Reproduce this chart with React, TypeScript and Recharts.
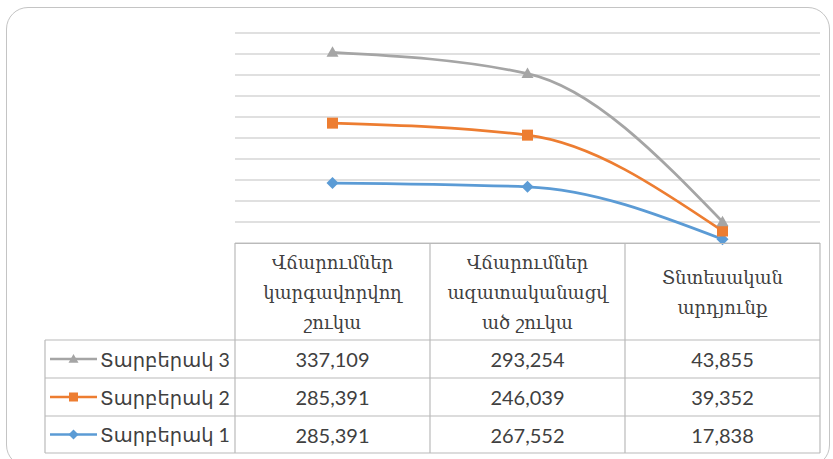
import React from 'react';
import { LineChart, Line, XAxis, YAxis, CartesianGrid } from 'recharts';

const categories = ['Վճարումներ կարգավորվող շուկա', 'Վճարումներ ազատականացված շուկա', 'Տնտեսական արդյունք'];
// header labels wrapped the same way as in the data table
const headerLines = [
  ['Վճարումներ', 'կարգավորվող', 'շուկա'],
  ['Վճարումներ', 'ազատականացվ', 'ած շուկա'],
  ['Տնտեսական', 'արդյունք'],
];

const variant1 = [285391, 267552, 17838];
const variant2 = [285391, 246039, 39352];
const variant3 = [337109, 293254, 43855];

const yTicks = [0, 100000, 200000, 300000, 400000, 500000, 600000, 700000, 800000, 900000, 1000000];

const SERIES = [
  { key: 'v1', name: 'Տարբերակ 1', values: variant1, color: '#5b9bd5', marker: 'diamond' },
  { key: 'v2', name: 'Տարբերակ 2', values: variant2, color: '#ed7d31', marker: 'square' },
  { key: 'v3', name: 'Տարբերակ 3', values: variant3, color: '#a5a5a5', marker: 'triangle' },
];

// stacked line chart: each series sits on top of the previous ones
const chartData = categories.map((c, i) => ({
  name: c,
  v1: variant1[i],
  v2: variant1[i] + variant2[i],
  v3: variant1[i] + variant2[i] + variant3[i],
}));

const markerShape = (kind: string, cx: number, cy: number, r: number, color: string, key?: string) => {
  if (kind === 'diamond') {
    return <polygon key={key} points={`${cx},${cy - r} ${cx + r},${cy} ${cx},${cy + r} ${cx - r},${cy}`} fill={color} />;
  }
  if (kind === 'square') {
    return <rect key={key} x={cx - r + 0.5} y={cy - r + 0.5} width={2 * r - 1} height={2 * r - 1} fill={color} />;
  }
  return <polygon key={key} points={`${cx},${cy - r} ${cx + r},${cy + r * 0.75} ${cx - r},${cy + r * 0.75}`} fill={color} />;
};

const BORDER = '#bababa';
const TEXT = '#404040';
const colX = [235, 430, 625, 820];
const rowY = [340, 378, 416, 453];

const App: React.FC = () => {
  const tableRows = [...SERIES].reverse();
  return (
    <div style={{ position: 'absolute', left: 0, top: 0, width: 833, height: 459, background: '#fff' }}>
      <div style={{ position: 'absolute', left: 6, top: 7, width: 824, height: 460, border: '1.5px solid #c4c4c4', borderRadius: 22, boxSizing: 'border-box' }} />
      <div style={{ position: 'absolute', left: 0, top: 0 }}>
        <LineChart width={833} height={459} data={chartData} margin={{ top: 33, left: 235, right: 13, bottom: 216 }}>
          <CartesianGrid vertical={false} stroke="#c2c2c2" strokeWidth={1.2} />
          <XAxis dataKey="name" hide padding={{ left: 97.5, right: 97.5 }} />
          <YAxis hide domain={[0, 1000000]} ticks={yTicks} interval={0} />
          {SERIES.map(s => (
            <Line
              key={s.key}
              dataKey={s.key}
              name={s.name}
              type="monotone"
              stroke={s.color}
              strokeWidth={2.7}
              isAnimationActive={false}
              dot={(p: any) => markerShape(s.marker, p.cx, p.cy, 6, s.color, `${s.key}-${p.index}`)}
              activeDot={false}
            />
          ))}
        </LineChart>
      </div>

      {/* data table */}
      <svg width={833} height={459} style={{ position: 'absolute', left: 0, top: 0 }}>
        <line x1={235} y1={243.5} x2={820} y2={243.5} stroke={BORDER} strokeWidth={1.2} />
        {colX.map(x => (
          <line key={x} x1={x} y1={243} x2={x} y2={453} stroke={BORDER} strokeWidth={1.2} />
        ))}
        <line x1={45} y1={340} x2={45} y2={453} stroke={BORDER} strokeWidth={1.2} />
        {rowY.map(y => (
          <line key={y} x1={45} y1={y} x2={820} y2={y} stroke={BORDER} strokeWidth={1.2} />
        ))}
        {headerLines.map((lines, ci) => {
          const cx = (colX[ci] + colX[ci + 1]) / 2;
          const y0 = 292.5 - ((lines.length - 1) * 30) / 2;
          return lines.map((t, li) => (
            <text key={`${ci}-${li}`} x={cx} y={y0 + li * 30} textAnchor="middle" dominantBaseline="central"
              fontFamily="'DejaVu Serif', serif" fontSize={18} fill={TEXT}>{t}</text>
          ));
        })}
        {tableRows.map((s, ri) => {
          const cy = (rowY[ri] + rowY[ri + 1]) / 2;
          return (
            <g key={s.key}>
              <line x1={50} y1={cy} x2={97} y2={cy} stroke={s.color} strokeWidth={2.7} />
              {markerShape(s.marker, 73.5, cy, 5, s.color)}
              <text x={100} y={cy} dominantBaseline="central" fontFamily="Lato, 'DejaVu Sans', sans-serif" fontSize={19.5} fill={TEXT}>{s.name}</text>
              {s.values.map((v, ci) => (
                <text key={ci} x={(colX[ci] + colX[ci + 1]) / 2} y={cy} textAnchor="middle" dominantBaseline="central"
                  fontFamily="Lato, sans-serif" fontSize={20} fill={TEXT}>{v.toLocaleString('en-US')}</text>
              ))}
            </g>
          );
        })}
      </svg>
    </div>
  );
};

export default App;
